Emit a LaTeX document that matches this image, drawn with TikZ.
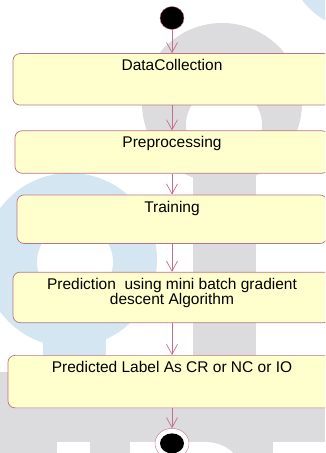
\documentclass[tikz,border=0pt]{standalone}
\usepackage{fontspec}
\setmainfont{Liberation Sans}
\usetikzlibrary{positioning,shapes.geometric,arrows.meta}
\definecolor{actfill}{RGB}{255,255,206}
\definecolor{actline}{RGB}{192,112,138}
\definecolor{markgray}{RGB}{220,220,222}
\definecolor{markblue}{RGB}{212,230,241}
\newcommand{\acttext}[2]{\parbox[t][#1][t]{290pt}{\centering #2}}

\begin{document}
\begin{tikzpicture}[x=1pt, y=-1pt,
  actbox/.style={draw=actline, fill=actfill, line width=0.7pt, rounded corners=7pt,
    anchor=north, inner xsep=0pt, inner ysep=6pt, font=\fontsize{15.5}{15.5}\selectfont},
  startdot/.style={ellipse, draw=actline, fill=black, inner sep=0pt, minimum width=24pt, minimum height=23pt},
  enddot/.style={ellipse, draw=actline, fill=white, inner sep=0pt, minimum width=34pt, minimum height=30pt},
  flow/.style={draw=actline, line width=0.7pt, -{Straight Barb[length=10pt,width=11pt]}}]
\useasboundingbox (0,0) rectangle (325,453);
\clip (0,0) rectangle (325,453);

% faded logo behind the flow
\fill[markblue] (362,-45) circle (75);
\fill[markblue, even odd rule] (70,260) circle (87) (75,262) circle (38);
\fill[markblue] (43,300) rectangle (106,380);
\fill[markgray, even odd rule] (222,103) circle (80) (224,125) circle (38);
\fill[markgray] (193,150) rectangle (256,380);
\fill[markgray] (0,372) rectangle (325,453);
\fill[white] (57,442) rectangle (90,460);
\fill[white] (130,470) -- (130,442) -- (205,442) to[out=0,in=90] (240,470) -- cycle;
\fill[white] (273,442) rectangle (330,460);

% activity flow
\node[startdot] (start) at (172,18) {};
\node[actbox, minimum width=318pt, below=23.5pt of start] (collect) {\acttext{39.5pt}{DataCollection}};
\node[actbox, minimum width=314pt, below=25pt of collect] (prep) {\acttext{30.5pt}{Preprocessing}};
\node[actbox, minimum width=310pt, below=21pt of prep] (train) {\acttext{36.5pt}{Training}};
\node[actbox, minimum width=318pt, below=28pt of train] (predict) {\acttext{38.5pt}{Prediction~ using mini batch gradient\\descent Algorithm}};
\node[actbox, minimum width=328pt, below=32pt of predict] (label) {\acttext{40.5pt}{Predicted Label As CR or NC or IO}};
\node[enddot, below=20pt of label] (stop) {};
\fill (stop.center) ellipse [x radius=12, y radius=10]; % final state core

\foreach \a/\b in {start/collect, collect/prep, prep/train, train/predict, predict/label, label/stop}
  \draw[flow] (\a) -- (\b);
\end{tikzpicture}
\end{document}
